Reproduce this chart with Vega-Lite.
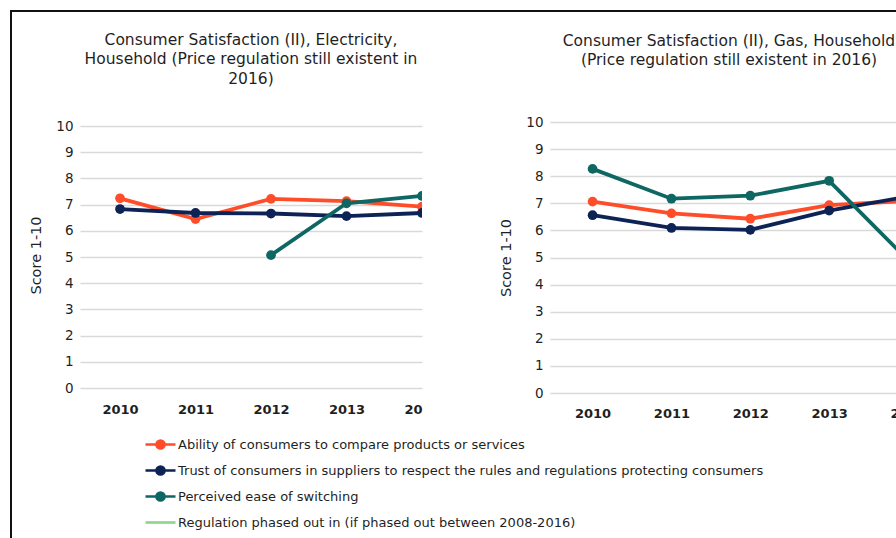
{
  "$schema": "https://vega.github.io/schema/vega-lite/v6.json",
  "background": "white",
  "padding": {"left": 10, "top": 10, "right": 0, "bottom": 0},
  "config": {
    "font": "DejaVu Sans",
    "view": {"stroke": null},
    "axis": {"labelColor": "#1f1f1f", "titleColor": "#1f1f1f", "labelFont": "DejaVu Sans", "titleFont": "DejaVu Sans"},
    "title": {"font": "DejaVu Sans", "fontSize": 15.5, "fontWeight": "normal", "color": "#1f1f1f", "lineHeight": 19.5, "anchor": "middle", "frame": "group"}
  },
  "datasets": {
    "scores": [
      {"panel": "Electricity", "series": "Ability of consumers to compare products or services", "year": 2010, "score": 7.24},
      {"panel": "Electricity", "series": "Ability of consumers to compare products or services", "year": 2011, "score": 6.45},
      {"panel": "Electricity", "series": "Ability of consumers to compare products or services", "year": 2012, "score": 7.22},
      {"panel": "Electricity", "series": "Ability of consumers to compare products or services", "year": 2013, "score": 7.13},
      {"panel": "Electricity", "series": "Ability of consumers to compare products or services", "year": 2014, "score": 6.92},
      {"panel": "Electricity", "series": "Trust of consumers in suppliers to respect the rules and regulations protecting consumers", "year": 2010, "score": 6.83},
      {"panel": "Electricity", "series": "Trust of consumers in suppliers to respect the rules and regulations protecting consumers", "year": 2011, "score": 6.68},
      {"panel": "Electricity", "series": "Trust of consumers in suppliers to respect the rules and regulations protecting consumers", "year": 2012, "score": 6.66},
      {"panel": "Electricity", "series": "Trust of consumers in suppliers to respect the rules and regulations protecting consumers", "year": 2013, "score": 6.56},
      {"panel": "Electricity", "series": "Trust of consumers in suppliers to respect the rules and regulations protecting consumers", "year": 2014, "score": 6.68},
      {"panel": "Electricity", "series": "Perceived ease of switching", "year": 2012, "score": 5.07},
      {"panel": "Electricity", "series": "Perceived ease of switching", "year": 2013, "score": 7.05},
      {"panel": "Electricity", "series": "Perceived ease of switching", "year": 2014, "score": 7.33},
      {"panel": "Gas", "series": "Ability of consumers to compare products or services", "year": 2010, "score": 7.06},
      {"panel": "Gas", "series": "Ability of consumers to compare products or services", "year": 2011, "score": 6.63},
      {"panel": "Gas", "series": "Ability of consumers to compare products or services", "year": 2012, "score": 6.43},
      {"panel": "Gas", "series": "Ability of consumers to compare products or services", "year": 2013, "score": 6.93},
      {"panel": "Gas", "series": "Ability of consumers to compare products or services", "year": 2014, "score": 7.09},
      {"panel": "Gas", "series": "Trust of consumers in suppliers to respect the rules and regulations protecting consumers", "year": 2010, "score": 6.56},
      {"panel": "Gas", "series": "Trust of consumers in suppliers to respect the rules and regulations protecting consumers", "year": 2011, "score": 6.09},
      {"panel": "Gas", "series": "Trust of consumers in suppliers to respect the rules and regulations protecting consumers", "year": 2012, "score": 6.02},
      {"panel": "Gas", "series": "Trust of consumers in suppliers to respect the rules and regulations protecting consumers", "year": 2013, "score": 6.73},
      {"panel": "Gas", "series": "Trust of consumers in suppliers to respect the rules and regulations protecting consumers", "year": 2014, "score": 7.25},
      {"panel": "Gas", "series": "Perceived ease of switching", "year": 2010, "score": 8.27},
      {"panel": "Gas", "series": "Perceived ease of switching", "year": 2011, "score": 7.17},
      {"panel": "Gas", "series": "Perceived ease of switching", "year": 2012, "score": 7.28},
      {"panel": "Gas", "series": "Perceived ease of switching", "year": 2013, "score": 7.83},
      {"panel": "Gas", "series": "Perceived ease of switching", "year": 2014, "score": 4.9}
    ]
  },
  "spacing": 0,
  "hconcat": [
    {
      "description": "Left edge of the chart-area border",
      "data": {"values": []},
      "width": 2,
      "height": 540,
      "view": {"fill": "#111111"},
      "mark": {"type": "point"}
    },
    {
      "spacing": 20,
      "vconcat": [
        {
          "description": "Top edge of the chart-area border",
          "data": {"values": []},
          "width": 900,
          "height": 2,
          "view": {"fill": "#111111"},
          "mark": {"type": "point"}
        },
        {
          "spacing": 15,
          "hconcat": [
            {
              "description": "Inner margin of the chart area",
              "data": {"values": []},
              "width": 1,
              "height": 1,
              "mark": {"type": "point"}
            },
            {
              "spacing": 76,
              "hconcat": [
                {
                  "data": {"name": "scores"},
                  "transform": [{"filter": "datum.panel === 'Electricity'"}],
                  "title": {"text": ["Consumer Satisfaction (II), Electricity,", "Household  (Price regulation still existent in", "2016)"], "offset": 32},
                  "width": 342,
                  "height": 266,
                  "mark": {"type": "line", "strokeWidth": 3.8, "clip": true, "point": {"filled": true, "size": 95, "clip": true}},
                  "encoding": {
                    "x": {
                      "field": "year", "type": "quantitative",
                      "scale": {"domain": [2009.47, 2014], "nice": false, "zero": false},
                      "axis": {
                        "values": [2010, 2011, 2012, 2013, 2014], "format": "d", "title": null,
                        "grid": false, "domain": false, "ticks": false, "labelFlush": false, "labelOverlap": false,
                        "labelFontSize": 13, "labelFontWeight": "bold", "labelPadding": 15,
                        "labelExpr": "datum.value == 2014 ? '20' : datum.label",
                        "labelAlign": {"condition": {"test": "datum.value == 2014", "value": "right"}, "value": "center"}
                      }
                    },
                    "y": {
                      "field": "score", "type": "quantitative",
                      "scale": {"domain": [0, 10.153], "nice": false},
                      "axis": {
                        "values": [0, 1, 2, 3, 4, 5, 6, 7, 8, 9, 10], "title": "Score 1-10",
                        "domain": false, "ticks": false, "gridColor": "#d9d9d9", "gridWidth": 1.6,
                        "labelFontSize": 13.5, "labelPadding": 7, "titleFontSize": 14.5, "titleFontWeight": "normal", "titlePadding": 12
                      }
                    },
                    "color": {
                      "field": "series", "type": "nominal",
                      "scale": {
                        "domain": ["Ability of consumers to compare products or services", "Trust of consumers in suppliers to respect the rules and regulations protecting consumers", "Perceived ease of switching", "Regulation phased out in (if phased out between 2008-2016)"],
                        "range": ["#ff4d29", "#0d2356", "#0e6762", "#8fd48c"]
                      },
                      "legend": {
                        "title": null, "orient": "none", "legendX": 134, "legendY": 418, "direction": "vertical",
                        "labelFont": "DejaVu Sans", "labelFontSize": 13, "labelColor": "#1f1f1f", "labelLimit": 900, "labelOffset": 1,
                        "symbolType": "M-1,0H1M-0.27,0A0.27,0.27,0,1,0,0.27,0A0.27,0.27,0,1,0,-0.27,0Z",
                        "symbolSize": 900, "symbolStrokeWidth": 2.6, "rowPadding": 0,
                        "encode": {
                          "symbols": {
                            "update": {
                              "shape": {"signal": "datum.value === 'Regulation phased out in (if phased out between 2008-2016)' ? 'M-1,0H1' : 'M-1,0H1M-0.27,0A0.27,0.27,0,1,0,0.27,0A0.27,0.27,0,1,0,-0.27,0Z'"},
                              "fill": {"scale": "color", "field": "value"},
                              "stroke": {"scale": "color", "field": "value"},
                              "opacity": {"value": 1}
                            }
                          }
                        }
                      }
                    }
                  }
                },
                {
                  "data": {"name": "scores"},
                  "transform": [{"filter": "datum.panel === 'Gas'"}],
                  "title": {"text": ["Consumer Satisfaction (II), Gas, Household", "(Price regulation still existent in 2016)"], "offset": 46.5},
                  "width": 358,
                  "height": 271,
                  "mark": {"type": "line", "strokeWidth": 3.8, "clip": true, "point": {"filled": true, "size": 95, "clip": true}},
                  "encoding": {
                    "x": {
                      "field": "year", "type": "quantitative",
                      "scale": {"domain": [2009.46, 2014], "nice": false, "zero": false},
                      "axis": {
                        "values": [2010, 2011, 2012, 2013, 2014], "format": "d", "title": null,
                        "grid": false, "domain": false, "ticks": false, "labelFlush": false, "labelOverlap": false,
                        "labelFontSize": 13, "labelFontWeight": "bold", "labelPadding": 14
                      }
                    },
                    "y": {
                      "field": "score", "type": "quantitative",
                      "scale": {"domain": [0, 10], "nice": false},
                      "axis": {
                        "values": [0, 1, 2, 3, 4, 5, 6, 7, 8, 9, 10], "title": "Score 1-10",
                        "domain": false, "ticks": false, "gridColor": "#d9d9d9", "gridWidth": 1.6,
                        "labelFontSize": 13.5, "labelPadding": 7, "titleFontSize": 14.5, "titleFontWeight": "normal", "titlePadding": 12
                      }
                    },
                    "color": {"field": "series", "type": "nominal"}
                  }
                }
              ]
            }
          ]
        }
      ]
    }
  ]
}
